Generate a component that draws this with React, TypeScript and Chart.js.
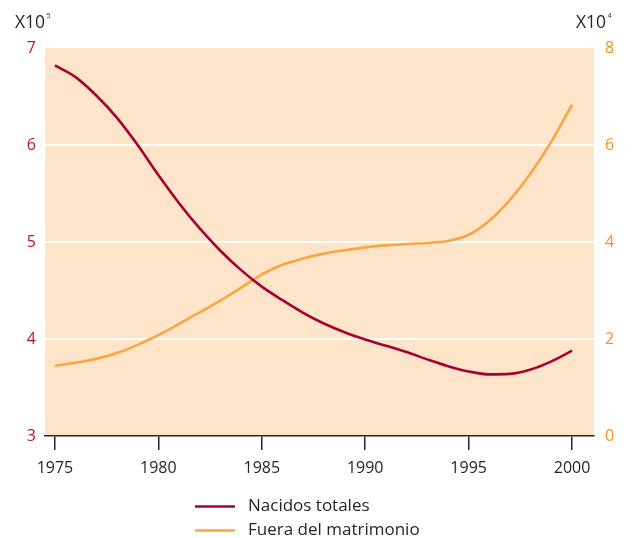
import React, { useEffect, useRef } from "react";
import { Chart, registerables } from "chart.js";

Chart.register(...registerables);

const years = [1975, 1976, 1977, 1978, 1979, 1980, 1981, 1982, 1983, 1984, 1985, 1986, 1987, 1988, 1989, 1990, 1991, 1992, 1993, 1994, 1995, 1996, 1997, 1998, 1999, 2000];
const nacidosTotales = [6.82, 6.7, 6.51, 6.28, 6.0, 5.69, 5.4, 5.14, 4.91, 4.71, 4.54, 4.4, 4.27, 4.16, 4.07, 3.995, 3.93, 3.865, 3.79, 3.72, 3.665, 3.635, 3.64, 3.685, 3.77, 3.88];
const fueraMatrimonio = [1.45, 1.51, 1.59, 1.71, 1.88, 2.08, 2.31, 2.55, 2.79, 3.06, 3.33, 3.53, 3.66, 3.76, 3.83, 3.89, 3.93, 3.96, 3.98, 4.02, 4.15, 4.44, 4.87, 5.42, 6.07, 6.83];
const xTicks = [1975, 1980, 1985, 1990, 1995, 2000];
const seriesNames = ["Nacidos totales", "Fuera del matrimonio"];

const RED = "#A8002F";
const ORANGE = "#FBA443";
const RED_TXT = "#B8123F";
const ORANGE_TXT = "#F7901E";
const BG = "#FEE5CA";
const TXT = "#262626";
const FONT = "'Open Sans', 'Noto Sans', sans-serif";

export default function App() {
  const ref = useRef<HTMLCanvasElement | null>(null);
  useEffect(() => {
    document.body.style.margin = "0";
    const canvas = ref.current;
    if (!canvas) return;

    const bgPlugin = {
      id: "bgPlugin",
      beforeDraw(chart: any) {
        const { ctx, chartArea } = chart;
        ctx.save();
        ctx.fillStyle = BG;
        ctx.fillRect(chartArea.left, chartArea.top, chartArea.right - chartArea.left, chartArea.bottom - chartArea.top);
        ctx.restore();
      },
    };

    const decoPlugin = {
      id: "decoPlugin",
      afterDraw(chart: any) {
        const { ctx } = chart;
        ctx.save();
        ctx.fillStyle = TXT;
        ctx.textBaseline = "alphabetic";
        ctx.textAlign = "left";
        ctx.font = `17.5px ${FONT}`;
        const w = ctx.measureText("X10").width;
        ctx.fillText("X10", 15, 28);
        ctx.fillText("X10", 606 - w, 28);
        ctx.font = `7px ${FONT}`;
        ctx.fillText("5", 15 + w + 1.5, 18);
        ctx.fillText("4", 607.5, 18);
        // legend
        const items = [
          { label: seriesNames[0], color: RED, y: 506.5 },
          { label: seriesNames[1], color: ORANGE, y: 530.5 },
        ];
        items.forEach((it) => {
          ctx.strokeStyle = it.color;
          ctx.lineWidth = 2.5;
          ctx.beginPath();
          ctx.moveTo(195, it.y);
          ctx.lineTo(235, it.y);
          ctx.stroke();
          ctx.fillStyle = TXT;
          ctx.font = `17px ${FONT}`;
          ctx.textBaseline = "middle";
          ctx.fillText(it.label, 248, it.y);
        });
        ctx.restore();
      },
    };

    const chart = new Chart(canvas, {
      type: "line",
      data: {
        datasets: [
          {
            label: seriesNames[0],
            data: years.map((x, i) => ({ x, y: nacidosTotales[i] })),
            borderColor: RED,
            borderWidth: 2.6,
            pointRadius: 0,
            cubicInterpolationMode: "monotone",
            yAxisID: "y",
          },
          {
            label: seriesNames[1],
            data: years.map((x, i) => ({ x, y: fueraMatrimonio[i] })),
            borderColor: ORANGE,
            borderWidth: 2.6,
            pointRadius: 0,
            cubicInterpolationMode: "monotone",
            yAxisID: "y1",
          },
        ],
      },
      options: {
        animation: false,
        responsive: false,
        maintainAspectRatio: false,
        layout: { padding: { top: 48, left: 0, right: 0, bottom: 0 } },
        plugins: { legend: { display: false }, tooltip: { enabled: false } },
        scales: {
          x: {
            type: "linear",
            min: 1974.52,
            max: 2001.06,
            afterBuildTicks: (scale: any) => {
              scale.ticks = xTicks.map((v) => ({ value: v }));
            },
            afterFit: (scale: any) => {
              scale.height = 102;
            },
            grid: { drawOnChartArea: false, drawTicks: true, tickLength: 14, color: TXT, lineWidth: 1.5 },
            border: { display: true, color: TXT, width: 1.5 },
            ticks: { color: TXT, font: { size: 16, family: FONT }, padding: 9, maxRotation: 0, autoSkip: false, callback: (v: any) => String(v) },
          },
          y: {
            position: "left",
            min: 3,
            max: 7,
            afterFit: (scale: any) => {
              scale.width = 45;
            },
            grid: { color: (c: any) => (c.tick && (c.tick.value === 3 || c.tick.value === 7) ? "rgba(0,0,0,0)" : "#ffffff"), lineWidth: 2, drawTicks: false },
            border: { display: false },
            ticks: { stepSize: 1, color: RED_TXT, font: { size: 16, family: FONT }, padding: 9 },
          },
          y1: {
            position: "right",
            min: 0,
            max: 8,
            afterFit: (scale: any) => {
              scale.width = 38;
            },
            grid: { display: false, drawTicks: false },
            border: { display: false },
            ticks: { stepSize: 2, color: ORANGE_TXT, font: { size: 16, family: FONT }, padding: 11 },
          },
        },
      },
      plugins: [bgPlugin, decoPlugin],
    } as any);
    return () => chart.destroy();
  }, []);

  return (
    <div style={{ width: 632, height: 538 }}>
      <canvas ref={ref} width={632} height={538} style={{ display: "block", width: 632, height: 538 }} />
    </div>
  );
}
